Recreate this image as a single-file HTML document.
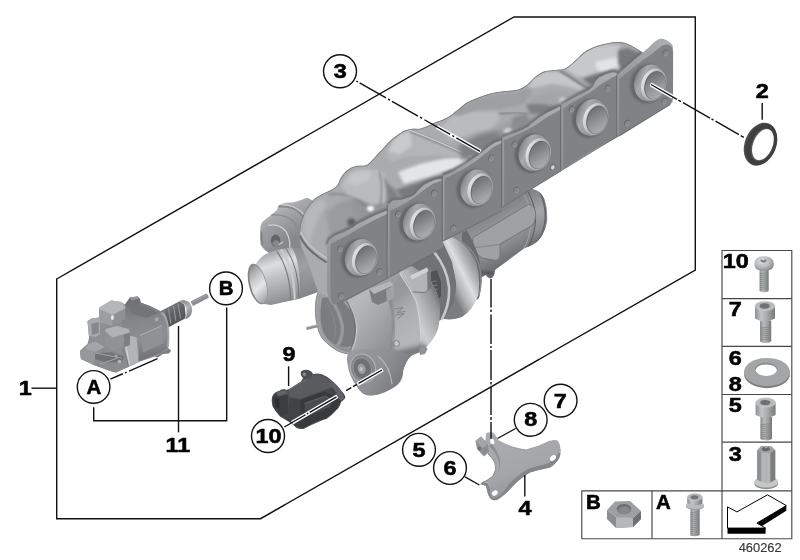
<!DOCTYPE html>
<html lang="en">
<head>
<meta charset="utf-8">
<title>Turbocharger with exhaust manifold - parts diagram 460262</title>
<style>
html,body{margin:0;padding:0;background:#fff;}
body{width:800px;height:560px;overflow:hidden;}
svg{display:block;}
text{font-family:"Liberation Sans",sans-serif;}
.b{font-weight:bold;fill:#000;}
</style>
</head>
<body>
<svg width="800" height="560" viewBox="0 0 800 560">
<defs>
<filter id="b1" x="-20%" y="-20%" width="140%" height="140%"><feGaussianBlur stdDeviation="1"/></filter>
<filter id="b2" x="-30%" y="-30%" width="160%" height="160%"><feGaussianBlur stdDeviation="2"/></filter>
<filter id="b3" x="-30%" y="-30%" width="160%" height="160%"><feGaussianBlur stdDeviation="3"/></filter>
<filter id="b5" x="-40%" y="-40%" width="180%" height="180%"><feGaussianBlur stdDeviation="5"/></filter>
<filter id="b05" x="-20%" y="-20%" width="140%" height="140%"><feGaussianBlur stdDeviation="0.5"/></filter>
<filter id="soft" x="-5%" y="-5%" width="110%" height="110%"><feGaussianBlur stdDeviation="0.45"/></filter>
<filter id="b15" x="-30%" y="-30%" width="160%" height="160%"><feGaussianBlur stdDeviation="1.5"/></filter>

<clipPath id="tubeclip"><path d="M299.5,233 C299.6,231.8 299.6,228.3 300,226 C300.4,223.7 301.2,221.5 302,219 C302.8,216.5 303.7,213.5 305,211 C306.3,208.5 308.3,206.1 310,204 C311.7,201.9 312.9,200.2 315,198.5 C317.1,196.8 319.8,195.4 322.5,194 C325.2,192.6 328.5,191.5 331,190 C333.5,188.5 335.8,187.1 337.5,185 C339.2,182.9 339.3,180.0 341,177.5 C342.7,175.0 345.0,171.9 347.5,170 C350.0,168.1 353.1,166.7 356,166 C358.9,165.3 362.7,166.2 365,165.6 C367.3,165.0 368.2,164.1 370,162.5 C371.8,160.9 373.9,158.2 376,156 C378.1,153.8 380.2,151.5 382.5,149 C384.8,146.5 387.5,143.3 390,141 C392.5,138.7 395.0,136.7 397.5,135 C400.0,133.3 402.5,131.6 405,130.6 C407.5,129.6 410.0,129.1 412.5,128.75 C415.0,128.4 417.5,129.2 420,128.75 C422.5,128.3 425.0,127.0 427.5,126 C430.0,125.0 432.6,123.5 435,122.5 C437.4,121.5 439.5,121.1 442,120 C444.5,118.9 447.0,118.0 450,116 C453.0,114.0 457.0,110.3 460,108 C463.0,105.7 464.7,103.8 468,102 C471.3,100.2 475.5,98.6 480,97 C484.5,95.4 489.0,93.7 495,92.5 C501.0,91.3 511.5,90.8 516,90 C520.5,89.2 520.0,89.0 522,88 C524.0,87.0 526.0,85.7 528,84 C530.0,82.3 532.0,79.8 534,78 C536.0,76.2 538.0,74.7 540,73.5 C542.0,72.3 543.3,71.6 546,71 C548.7,70.4 553.0,70.3 556,70 C559.0,69.7 561.8,69.7 564,69 C566.2,68.3 567.0,67.5 569,66 C571.0,64.5 573.2,62.5 576,60 C578.8,57.5 582.0,53.5 586,51 C590.0,48.5 594.7,46.5 600,45 C605.3,43.5 613.0,42.0 618,42 C623.0,42.0 626.0,43.3 630,45 C634.0,46.7 640.0,50.8 642,52 L650,60 L622,100 L566,135 L507,170 L448,205 L393,240 L340,262 L334,300 L318,292 L308,262 L301,246 Z"/></clipPath>
<linearGradient id="bevg" x1="0" y1="1" x2="1" y2="0"><stop offset="0" stop-color="#909295"/><stop offset="0.6" stop-color="#a0a2a5"/><stop offset="1" stop-color="#adafb2"/></linearGradient>
<linearGradient id="portg" x1="0" y1="0.45" x2="1" y2="0.55"><stop offset="0" stop-color="#7b7d80"/><stop offset="0.07" stop-color="#8f9194"/><stop offset="0.24" stop-color="#a8aaad"/><stop offset="0.5" stop-color="#97999c"/><stop offset="1" stop-color="#747679"/></linearGradient>
<linearGradient id="boreg" x1="0.15" y1="0.1" x2="0.8" y2="0.95"><stop offset="0" stop-color="#6c6e71"/><stop offset="0.3" stop-color="#808285"/><stop offset="0.65" stop-color="#999b9e"/><stop offset="1" stop-color="#acaeb1"/></linearGradient>
<linearGradient id="lipg" x1="0" y1="0.4" x2="1" y2="0.6"><stop offset="0" stop-color="#e4e5e6"/><stop offset="0.2" stop-color="#cfd1d2"/><stop offset="0.5" stop-color="#aeb0b3"/><stop offset="1" stop-color="#9a9c9f"/></linearGradient>
<linearGradient id="cylg" gradientUnits="userSpaceOnUse" x1="486" y1="212" x2="514" y2="262"><stop offset="0" stop-color="#7d7f82"/><stop offset="0.3" stop-color="#939598"/><stop offset="0.65" stop-color="#8a8c8f"/><stop offset="1" stop-color="#68696c"/></linearGradient>
<clipPath id="cylclip"><path d="M452,246 L466,210 L526,189 L532,189 Q540,190 544.5,199 Q548,210 547,222 Q544,238 533,244.5 L524,248.5 L495,270 Q494.5,278.5 490,278.5 Q487,278 486,275 Q480,279 476,277 L452,270 Z"/></clipPath>
<linearGradient id="capg" gradientUnits="userSpaceOnUse" x1="530" y1="192" x2="548" y2="240"><stop offset="0" stop-color="#808285"/><stop offset="0.4" stop-color="#a3a5a8"/><stop offset="0.75" stop-color="#8d8f92"/><stop offset="1" stop-color="#67696c"/></linearGradient>
<linearGradient id="torg" gradientUnits="userSpaceOnUse" x1="446" y1="280" x2="482" y2="262"><stop offset="0" stop-color="#7b7d80"/><stop offset="0.2" stop-color="#b0b2b4"/><stop offset="0.45" stop-color="#dcdedf"/><stop offset="0.7" stop-color="#a8aaad"/><stop offset="1" stop-color="#737578"/></linearGradient>
<linearGradient id="cmpg" gradientUnits="userSpaceOnUse" x1="272" y1="206" x2="292" y2="240"><stop offset="0" stop-color="#bcbec0"/><stop offset="0.3" stop-color="#a6a8ab"/><stop offset="0.7" stop-color="#939598"/><stop offset="1" stop-color="#85878a"/></linearGradient>
<linearGradient id="cmpf" gradientUnits="userSpaceOnUse" x1="262" y1="228" x2="290" y2="252"><stop offset="0" stop-color="#9fa1a4"/><stop offset="0.5" stop-color="#8f9194"/><stop offset="1" stop-color="#7d7f82"/></linearGradient>
<linearGradient id="inlb" gradientUnits="userSpaceOnUse" x1="296" y1="250" x2="310" y2="298"><stop offset="0" stop-color="#8d8f92"/><stop offset="0.35" stop-color="#9d9fa2"/><stop offset="1" stop-color="#808285"/></linearGradient>
<linearGradient id="inlg" gradientUnits="userSpaceOnUse" x1="264" y1="254" x2="280" y2="304"><stop offset="0" stop-color="#a6a8ab"/><stop offset="0.25" stop-color="#dcdedf"/><stop offset="0.5" stop-color="#bec0c2"/><stop offset="0.8" stop-color="#a0a2a5"/><stop offset="1" stop-color="#8a8c8f"/></linearGradient>
<linearGradient id="inlo" gradientUnits="userSpaceOnUse" x1="250" y1="268" x2="268" y2="302"><stop offset="0" stop-color="#8f9194"/><stop offset="0.3" stop-color="#c4c6c8"/><stop offset="0.55" stop-color="#e6e7e8"/><stop offset="0.85" stop-color="#b0b2b5"/><stop offset="1" stop-color="#8f9194"/></linearGradient>
<clipPath id="tbclip"><path d="M322,284 C321.2,286.0 318.1,291.7 317,296 C315.9,300.3 315.6,305.3 315.6,310 C315.6,314.7 316.1,319.7 317,324 C317.9,328.3 319.2,332.7 321,336 C322.8,339.3 325.2,341.5 328,344 C330.8,346.5 334.7,349.3 338,351 C341.3,352.7 346.3,353.5 348,354 L347,360  C347.5,362.3 348.2,369.3 350,374 C351.8,378.7 355.3,384.5 358,388 C360.7,391.5 362.3,394.0 366,395 C369.7,396.0 375.0,395.5 380,394 C385.0,392.5 392.3,388.7 396,386 C399.7,383.3 400.7,381.0 402,378 C403.3,375.0 402.7,371.5 404,368 C405.3,364.5 407.3,359.7 410,357 C412.7,354.3 417.3,353.7 420,352 C422.7,350.3 424.0,349.0 426,347 C428.0,345.0 430.1,342.8 432,340 C433.9,337.2 436.2,333.7 437.5,330 C438.8,326.3 439.2,322.8 439.5,318 C439.8,313.2 439.8,305.8 439,301 C438.2,296.2 436.9,292.9 435,289 C433.1,285.1 431.3,281.3 427.5,277.5 C423.7,273.7 414.6,267.9 412,266 L380,270 L330,270 Z"/></clipPath>
<linearGradient id="pipd" gradientUnits="userSpaceOnUse" x1="356" y1="305" x2="392" y2="335"><stop offset="0" stop-color="#b6b8ba"/><stop offset="0.4" stop-color="#a9abae"/><stop offset="1" stop-color="#939598"/></linearGradient>
<linearGradient id="hse" gradientUnits="userSpaceOnUse" x1="392" y1="300" x2="416" y2="330"><stop offset="0" stop-color="#96989b"/><stop offset="0.4" stop-color="#aaacaf"/><stop offset="1" stop-color="#b4b6b8"/></linearGradient>
<linearGradient id="volg" gradientUnits="userSpaceOnUse" x1="404" y1="322" x2="442" y2="304"><stop offset="0" stop-color="#a3a5a8"/><stop offset="0.3" stop-color="#cdcfd1"/><stop offset="0.55" stop-color="#b4b6b8"/><stop offset="0.85" stop-color="#939598"/><stop offset="1" stop-color="#737578"/></linearGradient>
<linearGradient id="bossg" gradientUnits="userSpaceOnUse" x1="350" y1="356" x2="406" y2="392"><stop offset="0" stop-color="#999b9e"/><stop offset="0.5" stop-color="#8d8f92"/><stop offset="1" stop-color="#707275"/></linearGradient>

</defs>
<rect width="800" height="560" fill="#fff"/>
<!-- turbo -->
<path d="M452,246 L466,210 L526,189 L532,189 Q540,190 544.5,199 Q548,210 547,222 Q544,238 533,244.5 L524,248.5 L495,270 Q494.5,278.5 490,278.5 Q487,278 486,275 Q480,279 476,277 L452,270 Z" fill="url(#cylg)"/>
<g clip-path="url(#cylclip)">
<path d="M526,188 L532,189 Q540,190 544.5,199 Q548,210 547,222 Q544,238 533,244.5 L526,249 Q534,236 535,220 Q535,202 526,188 Z" fill="url(#capg)"/>
<path d="M522,192 Q531,204 531.5,220 Q531,237 523,250" fill="none" stroke="#9c9ea1" stroke-width="1.2" stroke-linecap="round" filter="url(#b05)"/>
<path d="M526.5,189 Q535.5,203 535.5,220 Q535,236 527.5,248" fill="none" stroke="#5a5c5f" stroke-width="1" stroke-linecap="round" filter="url(#b05)"/>
<path d="M540,192 Q546,204 545.5,219 Q544,234 536,243" fill="none" stroke="#67696c" stroke-width="2" stroke-linecap="round" filter="url(#b05)"/>
<path d="M473,237.5 L529,204 Q534,205 535.5,212 Q536.5,220 532,225.5 L500,244 L500,256 Q499.5,259.5 496,260.5 L482,258 Q478,256 474.5,250 Q471.5,243 473,237.5 Z" fill="#9fa1a4" stroke="#707275" stroke-width="0.9"/>
<path d="M476,247.5 L500,244.5" fill="none" stroke="#7b7d80" stroke-width="0.8" stroke-linecap="round"/>
<path d="M462,264 Q476,274 492,273" fill="none" stroke="#55575a" stroke-width="3" stroke-linecap="round" filter="url(#b1)"/>
</g>
<path d="M448,228 L462,224 Q474,240 479,258 Q484,278 479,298 L468,306 Q476,284 470,266 Q462,248 446,241 Z" fill="#696b6e"/>
<path d="M459,240 Q474,249 479.5,266 Q483,282 479,296" fill="none" stroke="#8a8c8f" stroke-width="1.2" stroke-linecap="round" filter="url(#b05)"/>
<path d="M434,228 L462,226 L462,250 L444,256 L434,250 Z" fill="#8a8c8f"/>
<path d="M438,240 Q446,232 458,240.5 Q471,248.5 476.5,263 Q481,280 478,296 Q473,310 462,317 Q452,321 442,318.5 Q452,306 455.5,290 Q456,268 438,240 Z" fill="url(#torg)"/>
<path d="M441,247 Q456,268 455.5,290 Q452,306 442,318.5" fill="none" stroke="#77797c" stroke-width="1.4" stroke-linecap="round" filter="url(#b05)"/>
<path d="M400,268 L440,236 L452,262 L456,284 L454,302 L444,318 L430,326 L402,300 Z" fill="#707275"/>
<path d="M434,252 Q447,268 449,287 Q450,304 442,319" fill="none" stroke="#c6c8ca" stroke-width="2.6" stroke-linecap="round" filter="url(#b05)"/>
<path d="M430,255 Q443,270 445,288 Q446,304 438,320" fill="none" stroke="#6f7174" stroke-width="1.4" stroke-linecap="round" filter="url(#b05)"/>
<path d="M428,273 L437,270 L441,282 L441,296 L435,303 L430,296 Z" fill="#505255" filter="url(#b05)"/>
<path d="M431,282 l5,-1 M431,286 l6,-1 M431,290 l6,-1 M432,294 l5,-1" fill="none" stroke="#8a8c8f" stroke-width="0.8" stroke-linecap="round"/>
<path d="M260,238 C260.0,236.7 260.0,232.2 260.2,230 C260.4,227.8 260.4,226.2 261,224.75 C261.6,223.2 261.8,222.6 263.5,221 C265.2,219.4 268.8,216.9 271,215 C273.2,213.1 275.8,211.2 277,209.75 C278.2,208.2 277.2,207.1 278.5,206 C279.8,204.9 282.0,203.6 284.5,203 C287.0,202.4 290.8,202.8 293.5,202.25 C296.2,201.8 298.7,200.7 301,200 C303.3,199.3 305.5,197.8 307.5,198 C309.5,198.2 312.1,200.5 313,201 L324,230 L312,258 L272,254.5 Q265,251 261.5,245 Z" fill="url(#cmpg)"/>
<path d="M279.5,206.5 Q292,205.5 300,212.5 Q306,219 307,230" fill="none" stroke="#85878a" stroke-width="2.4" stroke-linecap="round" filter="url(#b05)"/>
<path d="M280.5,204.6 Q293,204.4 301.5,212 Q306.6,217.6 308,226" fill="none" stroke="#cdcfd1" stroke-width="1.2" stroke-linecap="round" filter="url(#b05)"/>
<path d="M272,215 Q286,214 294,222 Q299,230 298,244" fill="none" stroke="#8a8c8f" stroke-width="1.4" stroke-linecap="round" filter="url(#b05)"/>
<path d="M260.4,240 Q260.4,230 268,225.5 Q278,222.5 285.5,231 Q291.5,241 288.5,253 L272,254.5 Q263,250 260.4,244 Z" fill="url(#cmpf)"/>
<path d="M268.5,225.3 Q279,223 286,231.5 Q291.8,241.5 289,252.6" fill="none" stroke="#cfd1d2" stroke-width="1.3" stroke-linecap="round" filter="url(#b05)"/>
<path d="M262,232 Q261,238 262.4,244" fill="none" stroke="#77797c" stroke-width="1.2" stroke-linecap="round" filter="url(#b05)"/>
<ellipse cx="275.6" cy="240.6" rx="4.7" ry="6.1" fill="#626467"/>
<path d="M272,243.6 Q275.6,237 280,242.6 Q279.2,247.2 275.6,247 Z" fill="#85878a"/>
<path d="M279,244.6 l4,-2.6" fill="none" stroke="#d5d7d8" stroke-width="1" stroke-linecap="round"/>
<path d="M290,247.5 L318,250 L328,262 L324,290 L300,298.5 L286,301 L280,260 Z" fill="url(#inlb)"/>
<path d="M256,264 Q260,257 266,254 Q273,250.5 281,249 L292,247.5 Q301,262 300,298.5 L271,305 L264,304 Q250,296 248,278 Q249,270 256,264 Z" fill="url(#inlg)"/>
<path d="M277,251.6 Q290,270 290.6,299.6" fill="none" stroke="#77797c" stroke-width="1.1" stroke-linecap="round" filter="url(#b05)"/>
<path d="M281.4,250.2 Q294.4,269 294.6,298.4" fill="none" stroke="#c9cbcd" stroke-width="2.2" stroke-linecap="round" filter="url(#b05)"/>
<path d="M286.4,248.8 Q299,268 298.8,297.4" fill="none" stroke="#707275" stroke-width="1" stroke-linecap="round" filter="url(#b05)"/>
<ellipse cx="257.6" cy="284" rx="8.8" ry="20.8" transform="rotate(-14 257.6 284)" fill="#85878a"/>
<ellipse cx="258.3" cy="284.3" rx="7.7" ry="19.5" transform="rotate(-14 258.3 284.3)" fill="url(#inlo)"/>
<path d="M322,284 C321.2,286.0 318.1,291.7 317,296 C315.9,300.3 315.6,305.3 315.6,310 C315.6,314.7 316.1,319.7 317,324 C317.9,328.3 319.2,332.7 321,336 C322.8,339.3 325.2,341.5 328,344 C330.8,346.5 334.7,349.3 338,351 C341.3,352.7 346.3,353.5 348,354 L347,360  C347.5,362.3 348.2,369.3 350,374 C351.8,378.7 355.3,384.5 358,388 C360.7,391.5 362.3,394.0 366,395 C369.7,396.0 375.0,395.5 380,394 C385.0,392.5 392.3,388.7 396,386 C399.7,383.3 400.7,381.0 402,378 C403.3,375.0 402.7,371.5 404,368 C405.3,364.5 407.3,359.7 410,357 C412.7,354.3 417.3,353.7 420,352 C422.7,350.3 424.0,349.0 426,347 C428.0,345.0 430.1,342.8 432,340 C433.9,337.2 436.2,333.7 437.5,330 C438.8,326.3 439.2,322.8 439.5,318 C439.8,313.2 439.8,305.8 439,301 C438.2,296.2 436.9,292.9 435,289 C433.1,285.1 431.3,281.3 427.5,277.5 C423.7,273.7 414.6,267.9 412,266 L380,270 L330,270 Z" fill="#9b9da0"/>
<g clip-path="url(#tbclip)">
<path d="M322,298 C321.8,300.7 320.5,309.0 320.5,314 C320.5,319.0 320.9,324.0 322,328 C323.1,332.0 324.8,335.2 327,338 C329.2,340.8 332.2,343.0 335,344.5 C337.8,346.0 341.2,346.8 344,347 C346.8,347.2 350.0,346.7 352,345.5 C354.0,344.3 355.1,343.0 356,340 C356.9,337.0 357.8,331.7 357.5,327.5 C357.2,323.3 355.9,318.8 354,315 C352.1,311.2 348.7,308.2 346,305 C343.3,301.8 339.3,297.5 338,296 Z" fill="#7a7c7f"/>
<path d="M331,299 Q340,312 342.5,327 Q342.5,339 337.5,346" fill="none" stroke="#96989b" stroke-width="3.4" stroke-linecap="round" filter="url(#b05)"/>
<path d="M326.5,302 Q334,314 335.5,328 Q335.5,338 332,343.5" fill="none" stroke="#88898c" stroke-width="1" stroke-linecap="round" filter="url(#b05)"/>
<path d="M344,294 C345.0,295.3 348.2,298.7 350,302 C351.8,305.3 353.8,309.8 355,314 C356.2,318.2 357.0,322.8 357,327.5 C357.0,332.2 356.0,338.1 355,342 C354.0,345.9 348.2,349.0 351,351 C353.8,353.0 365.5,354.8 372,354 C378.5,353.2 386.3,350.0 390,346 C393.7,342.0 393.7,335.7 394,330 C394.3,324.3 393.3,317.3 392,312 C390.7,306.7 388.3,301.7 386,298 C383.7,294.3 382.3,291.5 378,290 C373.7,288.5 363.0,289.2 360,289 Z" fill="url(#pipd)"/>
<path d="M345,295 Q355,310 356.8,327 Q356.4,342 352,350.5" fill="none" stroke="#c9cbcd" stroke-width="1.2" stroke-linecap="round" filter="url(#b05)"/>
<path d="M343.6,296 Q353.4,310 355.2,327 Q354.8,341 350.6,349.5" fill="none" stroke="#6f7174" stroke-width="1" stroke-linecap="round" filter="url(#b05)"/>
<path d="M386,292 L402,274 L412,288 L418,304 L421,322 L421,342 L412,356 L396,352 L392,340 L394,326 L392,310 Z" fill="url(#hse)"/>
<path d="M389,296 Q394,312 394,328 Q394,342 390,350" fill="none" stroke="#77797c" stroke-width="1.4" stroke-linecap="round" filter="url(#b1)"/>
<path d="M399,272 C400.7,274.3 406.2,281.2 409,286 C411.8,290.8 414.2,295.3 416,301 C417.8,306.7 419.2,313.5 420,320 C420.8,326.5 421.3,334.0 421,340 C420.7,346.0 416.8,354.7 418,356 C419.2,357.3 425.3,351.0 428,348 C430.7,345.0 432.2,341.7 434,338 C435.8,334.3 437.6,330.0 438.5,326 C439.4,322.0 439.4,318.2 439.5,314 C439.6,309.8 439.8,305.2 439,301 C438.2,296.8 436.9,292.9 435,289 C433.1,285.1 431.0,281.3 427.5,277.5 C424.0,273.7 416.2,267.9 414,266 Z" fill="url(#volg)"/>
<path d="M400,274 Q410,288 416.5,302 Q420.5,320 421,340" fill="none" stroke="#d4d6d7" stroke-width="1.1" stroke-linecap="round" filter="url(#b05)"/>
<path d="M395,309 l8,-1.5 l-6,5 l8,-1 M396,315 l8,-1.5 l-6,5" fill="none" stroke="#808285" stroke-width="1" stroke-linecap="round"/>
<path d="M369,289 L390,281 L394,285 L394,298 L378,305 L372,302 Z" fill="#7b7d80"/>
<path d="M369,289 L390,281 L394,285 L374,294 Z" fill="#b4b6b8"/>
<path d="M386,290 L394,285 L394,298 L387,302 Z" fill="#a0a2a5"/>
<path d="M330,346 L360,354 L400,350 L426,344 L426,352 L400,362 L350,360 Z" fill="#7b7d80" filter="url(#b2)"/>
<path d="M348,352 C347.8,353.3 346.7,356.3 347,360 C347.3,363.7 348.2,369.3 350,374 C351.8,378.7 355.3,384.5 358,388 C360.7,391.5 362.3,394.0 366,395 C369.7,396.0 375.0,395.5 380,394 C385.0,392.5 392.3,388.7 396,386 C399.7,383.3 400.7,381.0 402,378 C403.3,375.0 402.7,371.5 404,368 C405.3,364.5 410.7,359.7 410,357 C409.3,354.3 405.0,353.2 400,352 C395.0,350.8 386.3,350.5 380,350 C373.7,349.5 365.0,349.2 362,349 Z" fill="url(#bossg)"/>
<ellipse cx="363" cy="368.5" rx="12.4" ry="14.6" transform="rotate(-18 363 368.5)" fill="#85878a" stroke="#b4b6b8" stroke-width="1"/>
<ellipse cx="362.3" cy="368.6" rx="9" ry="11" transform="rotate(-18 362.3 368.6)" fill="#6f7174" stroke="#999b9e" stroke-width="0.8"/>
<ellipse cx="361.6" cy="368.8" rx="4.6" ry="5.8" transform="rotate(-18 361.6 368.8)" fill="#999b9e" stroke="#65676a" stroke-width="0.8"/>
<ellipse cx="361.2" cy="369" rx="1.8" ry="2.3" fill="#bcbec0"/>
<path d="M378,356 Q390,366 392,384" fill="none" stroke="#b4b6b8" stroke-width="1.2" stroke-linecap="round" filter="url(#b05)"/>
<ellipse cx="396.6" cy="343.6" rx="2.8" ry="3" fill="#c6c8ca" stroke="#6f7174" stroke-width="0.8"/>
</g>
<path d="M409.5,276 L427,267.5 L431,271 L431,287 L425,292.5 L413,292 Z" fill="#b2b4b6"/>
<path d="M427,267.5 L431,271 L431,287 L427.5,290 Z" fill="#77797c"/>
<path d="M409.5,276 L427,267.5 L428.5,271 L412.5,279.5 Z" fill="#cfd1d2"/>
<path d="M413,292 L425,292.5 L431,287" fill="none" stroke="#6f7174" stroke-width="0.9" stroke-linecap="round"/>
<path d="M321,287 C320.3,288.8 317.8,294.0 317,298 C316.2,302.0 315.9,306.7 316,311 C316.1,315.3 316.6,319.9 317.5,324 C318.4,328.1 319.7,332.2 321.5,335.5 C323.3,338.8 325.8,341.1 328.5,343.5 C331.2,345.9 334.8,348.4 338,350 C341.2,351.6 346.3,352.5 348,353" fill="none" stroke="#a6a8ab" stroke-width="2.2" stroke-linecap="round"/>
<path d="M322,284 C321.2,286.0 318.1,291.7 317,296 C315.9,300.3 315.6,305.3 315.6,310 C315.6,314.7 316.1,319.7 317,324 C317.9,328.3 319.2,332.7 321,336 C322.8,339.3 325.2,341.5 328,344 C330.8,346.5 334.7,349.3 338,351 C341.3,352.7 346.3,353.5 348,354" fill="none" stroke="#808285" stroke-width="0.8" stroke-linecap="round"/>
<path d="M419,349 L425,345.5 L427.5,349 L425,354 L420,355 Z" fill="#8f9194"/>
<path d="M306,327.2 L318,324.2 L318.8,327 L306.8,330 Z" fill="#8d8f92"/>
<path d="M306.3,327.4 L318,324.5" fill="none" stroke="#c0c2c4" stroke-width="0.8" stroke-linecap="round"/>
<!-- manifold -->
<path d="M299.5,233 C299.6,231.8 299.6,228.3 300,226 C300.4,223.7 301.2,221.5 302,219 C302.8,216.5 303.7,213.5 305,211 C306.3,208.5 308.3,206.1 310,204 C311.7,201.9 312.9,200.2 315,198.5 C317.1,196.8 319.8,195.4 322.5,194 C325.2,192.6 328.5,191.5 331,190 C333.5,188.5 335.8,187.1 337.5,185 C339.2,182.9 339.3,180.0 341,177.5 C342.7,175.0 345.0,171.9 347.5,170 C350.0,168.1 353.1,166.7 356,166 C358.9,165.3 362.7,166.2 365,165.6 C367.3,165.0 368.2,164.1 370,162.5 C371.8,160.9 373.9,158.2 376,156 C378.1,153.8 380.2,151.5 382.5,149 C384.8,146.5 387.5,143.3 390,141 C392.5,138.7 395.0,136.7 397.5,135 C400.0,133.3 402.5,131.6 405,130.6 C407.5,129.6 410.0,129.1 412.5,128.75 C415.0,128.4 417.5,129.2 420,128.75 C422.5,128.3 425.0,127.0 427.5,126 C430.0,125.0 432.6,123.5 435,122.5 C437.4,121.5 439.5,121.1 442,120 C444.5,118.9 447.0,118.0 450,116 C453.0,114.0 457.0,110.3 460,108 C463.0,105.7 464.7,103.8 468,102 C471.3,100.2 475.5,98.6 480,97 C484.5,95.4 489.0,93.7 495,92.5 C501.0,91.3 511.5,90.8 516,90 C520.5,89.2 520.0,89.0 522,88 C524.0,87.0 526.0,85.7 528,84 C530.0,82.3 532.0,79.8 534,78 C536.0,76.2 538.0,74.7 540,73.5 C542.0,72.3 543.3,71.6 546,71 C548.7,70.4 553.0,70.3 556,70 C559.0,69.7 561.8,69.7 564,69 C566.2,68.3 567.0,67.5 569,66 C571.0,64.5 573.2,62.5 576,60 C578.8,57.5 582.0,53.5 586,51 C590.0,48.5 594.7,46.5 600,45 C605.3,43.5 613.0,42.0 618,42 C623.0,42.0 626.0,43.3 630,45 C634.0,46.7 640.0,50.8 642,52 L650,60 L622,100 L566,135 L507,170 L448,205 L393,240 L340,262 L334,300 L318,292 L308,262 L301,246 Z" fill="#a9abae"/>
<g clip-path="url(#tubeclip)">
<path d="M336,206 L372,190 L400,182 L440,166 L470,146 L505,126 L540,116 L560,104 L600,84 L620,72 L624,110 L566,140 L507,175 L448,210 L393,245 L340,264 Z" fill="#939598" filter="url(#b3)"/>
<path d="M303,232 L305,215 L313,204 L322,198.5 L327,205 L319,216 L313,232 L309,246 Z" fill="#b6b8ba" filter="url(#b15)"/>
<path d="M326,212 L340,204 L352,206 L358,216 L352,232 L340,240 L330,236 Z" fill="#999b9e" filter="url(#b2)"/>
<ellipse cx="351.5" cy="222.5" rx="4.2" ry="4.2" fill="#5d5f62" filter="url(#b15)"/>
<path d="M329,194.5 Q343,193 353,197 Q362,204 375,211" fill="none" stroke="#85878a" stroke-width="1.8" stroke-linecap="round" filter="url(#b1)"/>
<path d="M341,186 L346,176 L354,170.5 L366,168.5 L376,169.5 L386,174 L389,188 L385,203 L372,205 L360,199 L348,195 Z" fill="#b9bbbd" filter="url(#b15)"/>
<path d="M346,182 L352,174 L362,171 L372,172 L368,180 L356,186 Z" fill="#c4c6c8" filter="url(#b15)"/>
<path d="M379,172 Q384,184 380,206" fill="none" stroke="#8d8f92" stroke-width="1.8" stroke-linecap="round" filter="url(#b1)"/>
<path d="M384,176 L392,186 L398,198 L394,206 L388,200 Z" fill="#808285" filter="url(#b15)"/>
<path d="M386,156 L392.5,140 L400,133 L408.75,129.5 L430,138 L452,148 L470,156 L467.5,158 L440,156 L410,156 L392,162 Z" fill="#b3b5b7" filter="url(#b15)"/>
<path d="M388,152 L394,140 L402,134 L410,132 L412,146 L400,154 Z" fill="#c8cacc" filter="url(#b15)"/>
<path d="M384,164 L410,158 L440,157 L468,158.5 L470,166 L455,172 L440,178 L420,186 L400,192 L388,184 Z" fill="#a9abae" filter="url(#b15)"/>
<path d="M398,172 L420,164 L445,158.5 L466,157.5 L468,164 L450,170 L428,177 L404,184 Z" fill="#e4e5e6" filter="url(#b15)"/>
<path d="M396,190 L420,182 L440,176 L452,170 L456,174 L444,180 L424,188 L404,198 Z" fill="#77797c" filter="url(#b15)"/>
<path d="M411,131.5 Q440,143 474,158" fill="none" stroke="#838588" stroke-width="2.4" stroke-linecap="round" filter="url(#b1)"/>
<path d="M409,130 Q436,140 472,157" fill="none" stroke="#d0d2d4" stroke-width="1.2" stroke-linecap="round" filter="url(#b05)"/>
<path d="M440,128 L452,116 L470,112 L496,111 L500,118 L492,128 L470,134 L450,140 Z" fill="#b9bbbd" filter="url(#b15)"/>
<path d="M452,113 L462,106 L476,99.5 L492,95 L516,92.5 L528,87 L532,92 L524,104 L500,109 L476,110 L458,116 Z" fill="#9d9fa2" filter="url(#b15)"/>
<path d="M500,114 Q514,111 527,114" fill="none" stroke="#85878a" stroke-width="2" stroke-linecap="round" filter="url(#b1)"/>
<ellipse cx="508" cy="131.5" rx="4.2" ry="3.4" fill="#d6d8d9" filter="url(#b15)"/>
<path d="M458,146 L478,135 L496,131 L502,139 L482,151 L462,161 Z" fill="#7f8184" filter="url(#b2)"/>
<path d="M512,118 L526,113 L530,122 L520,128 L512,128 Z" fill="#8a8c8f" filter="url(#b15)"/>
<path d="M527.5,87.5 L533.75,77.5 L545,72 L560,72 L573.75,80 L585,87.5 L580,90 L567.5,86.25 L551.25,83.75 L536.25,87.5 Z" fill="#c4c6c8" filter="url(#b15)"/>
<path d="M530,98 L548,92 L566,92 L578,96 L570,104 L552,108 L534,108 Z" fill="#a3a5a8" filter="url(#b15)"/>
<path d="M526,104 L540,104 L556,106 L560,110 L548,114 L530,114 Z" fill="#7d7f82" filter="url(#b15)"/>
<ellipse cx="563" cy="101" rx="3.6" ry="3.6" fill="#d8dadb" filter="url(#b15)"/>
<path d="M565,68.75 L572.5,58.75 L582.5,51.25 L595,46.5 L610,44.5 L620,45 L620,58.75 L607.5,65 L595,72.5 L585,77.5 L576.25,76.25 Z" fill="#c6c8ca" filter="url(#b15)"/>
<path d="M595,62.5 L607.5,58.75 L620,57.5 L622,66 L607.5,71.25 L597.5,71.25 Z" fill="#e2e3e4" filter="url(#b15)"/>
<path d="M582.5,78.5 L595,74.75 L607.5,73.5 L618.75,72 L617.5,77 L607.5,80 L597.5,82.5 L590,85 Z" fill="#737578" filter="url(#b15)"/>
<path d="M618,50 L628,48 L638,52.5 L643,56 L632,64 L622,70 L618,64 Z" fill="#77797c" filter="url(#b15)"/>
<path d="M560,71 Q568,75 576,81 Q584,86.5 592,90" fill="none" stroke="#6c6e71" stroke-width="1.7" stroke-linecap="round" filter="url(#b1)"/>
<ellipse cx="370.5" cy="208.6" rx="3.6" ry="2.8" fill="#f4f5f6" filter="url(#b1)"/>
<path d="M300,236 Q306,250 326,262" fill="none" stroke="#6c6e71" stroke-width="2" stroke-linecap="round" filter="url(#b05)"/>
<path d="M300.5,232 Q307,247 328,259" fill="none" stroke="#c4c6c8" stroke-width="1.4" stroke-linecap="round" filter="url(#b05)"/>
<path d="M299.5,233 C299.6,231.8 299.6,228.3 300,226 C300.4,223.7 301.2,221.5 302,219 C302.8,216.5 303.7,213.5 305,211 C306.3,208.5 308.3,206.1 310,204 C311.7,201.9 312.9,200.2 315,198.5 C317.1,196.8 319.8,195.4 322.5,194 C325.2,192.6 328.5,191.5 331,190 C333.5,188.5 335.8,187.1 337.5,185 C339.2,182.9 339.3,180.0 341,177.5 C342.7,175.0 345.0,171.9 347.5,170 C350.0,168.1 353.1,166.7 356,166 C358.9,165.3 362.7,166.2 365,165.6 C367.3,165.0 368.2,164.1 370,162.5 C371.8,160.9 373.9,158.2 376,156 C378.1,153.8 380.2,151.5 382.5,149 C384.8,146.5 387.5,143.3 390,141 C392.5,138.7 395.0,136.7 397.5,135 C400.0,133.3 402.5,131.6 405,130.6 C407.5,129.6 410.0,129.1 412.5,128.75 C415.0,128.4 417.5,129.2 420,128.75 C422.5,128.3 425.0,127.0 427.5,126 C430.0,125.0 432.6,123.5 435,122.5 C437.4,121.5 439.5,121.1 442,120 C444.5,118.9 447.0,118.0 450,116 C453.0,114.0 457.0,110.3 460,108 C463.0,105.7 464.7,103.8 468,102 C471.3,100.2 475.5,98.6 480,97 C484.5,95.4 489.0,93.7 495,92.5 C501.0,91.3 511.5,90.8 516,90 C520.5,89.2 520.0,89.0 522,88 C524.0,87.0 526.0,85.7 528,84 C530.0,82.3 532.0,79.8 534,78 C536.0,76.2 538.0,74.7 540,73.5 C542.0,72.3 543.3,71.6 546,71 C548.7,70.4 553.0,70.3 556,70 C559.0,69.7 561.8,69.7 564,69 C566.2,68.3 567.0,67.5 569,66 C571.0,64.5 573.2,62.5 576,60 C578.8,57.5 582.0,53.5 586,51 C590.0,48.5 594.7,46.5 600,45 C605.3,43.5 613.0,42.0 618,42 C623.0,42.0 626.0,43.3 630,45 C634.0,46.7 640.0,50.8 642,52" fill="none" stroke="#797b7e" stroke-width="1.6" filter="url(#b05)"/>
</g>
<path d="M327,244.8 L329,238.8 L335,234.4 L344,230.9 L352.6,226.55 L357,223.05 L365.75,218.70000000000002 L374.5,214.3 L383.25,210.8 L387.5,209.05" fill="none" stroke="#6c6e71" stroke-width="3" stroke-linejoin="round" filter="url(#b1)" clip-path="url(#tubeclip)"/>
<path d="M387.5,203.8 L393,199.4 L402,198.55 L410.6,195.9 L415,193.3 L418.5,188.9 L423.75,183.70000000000002 L429,181.05 L436,178.4 L442.5,177.55" fill="none" stroke="#6c6e71" stroke-width="3" stroke-linejoin="round" filter="url(#b1)" clip-path="url(#tubeclip)"/>
<path d="M442.5,174.8 L453,170.55 L464.5,163.55 L473.25,157.4 L478.5,153.8 L483.75,149.55 L489,145.20000000000002 L494.25,141.70000000000002 L502,139.05" fill="none" stroke="#6c6e71" stroke-width="3" stroke-linejoin="round" filter="url(#b1)" clip-path="url(#tubeclip)"/>
<path d="M502,136.3 L508.75,133.8 L515.75,131.20000000000002 L522.75,128.55 L528.9,125.05 L531.5,122.39999999999999 L539.4,116.3 L548,111.05 L556.9,106.7 L561.3,104.89999999999999" fill="none" stroke="#6c6e71" stroke-width="3" stroke-linejoin="round" filter="url(#b1)" clip-path="url(#tubeclip)"/>
<path d="M561,103.8 L579,93.8 L588.5,89.05 L593,85.3 L595.25,80.05 L599,76.3 L605,73.3 L612.5,71.05 L616.7,71.8" fill="none" stroke="#6c6e71" stroke-width="3" stroke-linejoin="round" filter="url(#b1)" clip-path="url(#tubeclip)"/>
<path d="M617,73.8 L625,66.8 L634,58.8 L643.5,50.699999999999996 L648.7,46.3 L654,41.05 L658.4,38.0 L661.9,37.4 L666.2,38.8 L670.6,41.5 L672.8,44.55" fill="none" stroke="#6c6e71" stroke-width="3" stroke-linejoin="round" filter="url(#b1)" clip-path="url(#tubeclip)"/>
<path d="M327,246 L329,240 L335,235.6 L344,232.1 L352.6,227.75 L357,224.25 L365.75,219.9 L374.5,215.5 L383.25,212 L387.5,210.25 L387.5,278.5 L366,290 L347.5,300 L337,304.5 L331.5,305 L328.5,300 L327,290 Z" fill="url(#bevg)"/>
<path d="M330.5,244 L348.25,234.75 L361.4,226.9 L374.5,219.9 L387.5,213.75 L387.5,278.5 L366,290 L347.5,300 L337,304.5 L333,304 L330.5,298 Z" fill="#808285"/>
<path d="M387.5,205 L393,200.6 L402,199.75 L410.6,197.1 L415,194.5 L418.5,190.1 L423.75,184.9 L429,182.25 L436,179.6 L442.5,178.75 L442.5,248 L425,256.5 L387.5,278.5 Z" fill="url(#bevg)"/>
<path d="M389.7,211 L402,205 L415,197.1 L423.75,190.1 L432.5,184 L441.25,180.5 L442.5,181 L442.5,248 L425,256.5 L389.7,277.3 Z" fill="#808285"/>
<path d="M387.2,205 V278.5" stroke="#626467" stroke-width="0.9"/>
<path d="M442.5,176 L453,171.75 L464.5,164.75 L473.25,158.6 L478.5,155 L483.75,150.75 L489,146.4 L494.25,142.9 L502,140.25 L502,211 L487.5,219 L462.5,232.5 L442.5,241.5 Z" fill="url(#bevg)"/>
<path d="M444.7,178.75 L466.25,167.4 L476.75,160.4 L485.5,153.4 L494.25,146.4 L502,142.9 L502,211 L487.5,219 L462.5,232.5 L444.7,240.5 Z" fill="#808285"/>
<path d="M442.2,176 V241.5" stroke="#626467" stroke-width="0.9"/>
<path d="M502,137.5 L508.75,135 L515.75,132.4 L522.75,129.75 L528.9,126.25 L531.5,123.6 L539.4,117.5 L548,112.25 L556.9,107.9 L561.3,106.1 L561.3,171 L536,186 L524,194 L502,207.5 Z" fill="url(#bevg)"/>
<path d="M504.2,140.5 L526.25,130.6 L535,125.4 L548,116.6 L561.3,109.2 L561.3,171 L536,186 L524,194 L504.2,206.2 Z" fill="#808285"/>
<path d="M501.7,137.5 V207.5" stroke="#626467" stroke-width="0.9"/>
<path d="M561,105 L579,95 L588.5,90.25 L593,86.5 L595.25,81.25 L599,77.5 L605,74.5 L612.5,72.25 L616.7,73 L616.7,137.5 L600,146.5 L580,158.5 L561,170.5 Z" fill="url(#bevg)"/>
<path d="M563.3,108.5 L571.25,103 L590,92.5 L602,83.5 L612.5,77.5 L616.7,75.5 L616.7,137.5 L600,146.5 L580,158.5 L563.3,169.3 Z" fill="#808285"/>
<path d="M560.7,105 V170.5" stroke="#626467" stroke-width="0.9"/>
<path d="M617,75 L625,68 L634,60 L643.5,51.9 L648.7,47.5 L654,42.25 L658.4,39.2 L661.9,38.6 L666.2,40 L670.6,42.7 L672.8,45.75 L673.2,51.9 L673,98 L672.5,102 L670,105 L620,136 L617,137 Z" fill="url(#bevg)"/>
<path d="M619.2,79 L632,68.5 L641,61.5 L649.6,55.4 L657.5,49.25 L662,45.75 L666,44.4 L670,45.3 L672,47.5 L673,52 L673,98 L670,105 L620,136 L619.2,136.5 Z" fill="#808285"/>
<path d="M616.7,75 V137" stroke="#626467" stroke-width="0.9"/>
<path d="M337,304 L388,278 L443,247.5 M443,241 L502.5,210.5 M502.5,207 L561.5,170.5 L616.5,137 L670,104.5" fill="none" stroke="#6c6e71" stroke-width="0.9"/>
<ellipse cx="359" cy="258.7" rx="17.4" ry="19.8" transform="rotate(17 361 257.5)" fill="#646669" filter="url(#b1)"/>
<ellipse cx="361" cy="257.5" rx="15.8" ry="18.6" transform="rotate(17 361 257.5)" fill="url(#portg)"/>
<ellipse cx="364.8" cy="259.1" rx="12.4" ry="16.4" transform="rotate(17 364.8 259.1)" fill="url(#lipg)"/>
<ellipse cx="365.9" cy="259.7" rx="10.3" ry="14.4" transform="rotate(17 365.9 259.7)" fill="#67696c"/>
<ellipse cx="366.2" cy="260.0" rx="9.8" ry="13.8" transform="rotate(17 366.2 260.0)" fill="url(#boreg)"/>
<ellipse cx="417" cy="223.2" rx="17.4" ry="19.8" transform="rotate(17 419 222)" fill="#646669" filter="url(#b1)"/>
<ellipse cx="419" cy="222" rx="15.8" ry="18.6" transform="rotate(17 419 222)" fill="url(#portg)"/>
<ellipse cx="422.8" cy="223.6" rx="12.4" ry="16.4" transform="rotate(17 422.8 223.6)" fill="url(#lipg)"/>
<ellipse cx="423.9" cy="224.2" rx="10.3" ry="14.4" transform="rotate(17 423.9 224.2)" fill="#67696c"/>
<ellipse cx="424.2" cy="224.5" rx="9.8" ry="13.8" transform="rotate(17 424.2 224.5)" fill="url(#boreg)"/>
<ellipse cx="474.5" cy="189.0" rx="17.4" ry="19.8" transform="rotate(17 476.5 187.8)" fill="#646669" filter="url(#b1)"/>
<ellipse cx="476.5" cy="187.8" rx="15.8" ry="18.6" transform="rotate(17 476.5 187.8)" fill="url(#portg)"/>
<ellipse cx="480.3" cy="189.4" rx="12.4" ry="16.4" transform="rotate(17 480.3 189.4)" fill="url(#lipg)"/>
<ellipse cx="481.4" cy="190.0" rx="10.3" ry="14.4" transform="rotate(17 481.4 190.0)" fill="#67696c"/>
<ellipse cx="481.7" cy="190.3" rx="9.8" ry="13.8" transform="rotate(17 481.7 190.3)" fill="url(#boreg)"/>
<ellipse cx="532.5" cy="153.89999999999998" rx="17.4" ry="19.8" transform="rotate(17 534.5 152.7)" fill="#646669" filter="url(#b1)"/>
<ellipse cx="534.5" cy="152.7" rx="15.8" ry="18.6" transform="rotate(17 534.5 152.7)" fill="url(#portg)"/>
<ellipse cx="538.3" cy="154.29999999999998" rx="12.4" ry="16.4" transform="rotate(17 538.3 154.29999999999998)" fill="url(#lipg)"/>
<ellipse cx="539.4" cy="154.89999999999998" rx="10.3" ry="14.4" transform="rotate(17 539.4 154.89999999999998)" fill="#67696c"/>
<ellipse cx="539.7" cy="155.2" rx="9.8" ry="13.8" transform="rotate(17 539.7 155.2)" fill="url(#boreg)"/>
<ellipse cx="590" cy="118.7" rx="17.4" ry="19.8" transform="rotate(17 592 117.5)" fill="#646669" filter="url(#b1)"/>
<ellipse cx="592" cy="117.5" rx="15.8" ry="18.6" transform="rotate(17 592 117.5)" fill="url(#portg)"/>
<ellipse cx="595.8" cy="119.1" rx="12.4" ry="16.4" transform="rotate(17 595.8 119.1)" fill="url(#lipg)"/>
<ellipse cx="596.9" cy="119.7" rx="10.3" ry="14.4" transform="rotate(17 596.9 119.7)" fill="#67696c"/>
<ellipse cx="597.2" cy="120.0" rx="9.8" ry="13.8" transform="rotate(17 597.2 120.0)" fill="url(#boreg)"/>
<ellipse cx="648" cy="84.2" rx="17.4" ry="19.8" transform="rotate(17 650 83)" fill="#646669" filter="url(#b1)"/>
<ellipse cx="650" cy="83" rx="15.8" ry="18.6" transform="rotate(17 650 83)" fill="url(#portg)"/>
<ellipse cx="653.8" cy="84.6" rx="12.4" ry="16.4" transform="rotate(17 653.8 84.6)" fill="url(#lipg)"/>
<ellipse cx="654.9" cy="85.2" rx="10.3" ry="14.4" transform="rotate(17 654.9 85.2)" fill="#67696c"/>
<ellipse cx="655.2" cy="85.5" rx="9.8" ry="13.8" transform="rotate(17 655.2 85.5)" fill="url(#boreg)"/>
<ellipse cx="340" cy="248.7" rx="2.8" ry="3.5" transform="rotate(20 340 248.7)" fill="#696b6e"/><ellipse cx="340.7" cy="249.29999999999998" rx="2.2" ry="2.9" transform="rotate(20 340 248.7)" fill="#999b9e"/><ellipse cx="340.3" cy="248.89999999999998" rx="1.7" ry="2.3" transform="rotate(20 340 248.7)" fill="#85878a"/>
<ellipse cx="379.2" cy="271.5" rx="2.8" ry="3.5" transform="rotate(20 379.2 271.5)" fill="#696b6e"/><ellipse cx="379.9" cy="272.1" rx="2.2" ry="2.9" transform="rotate(20 379.2 271.5)" fill="#999b9e"/><ellipse cx="379.5" cy="271.7" rx="1.7" ry="2.3" transform="rotate(20 379.2 271.5)" fill="#85878a"/>
<ellipse cx="341" cy="295.6" rx="2.8" ry="3.5" transform="rotate(20 341 295.6)" fill="#696b6e"/><ellipse cx="341.7" cy="296.20000000000005" rx="2.2" ry="2.9" transform="rotate(20 341 295.6)" fill="#999b9e"/><ellipse cx="341.3" cy="295.8" rx="1.7" ry="2.3" transform="rotate(20 341 295.6)" fill="#85878a"/>
<ellipse cx="398" cy="213.7" rx="2.8" ry="3.5" transform="rotate(20 398 213.7)" fill="#696b6e"/><ellipse cx="398.7" cy="214.29999999999998" rx="2.2" ry="2.9" transform="rotate(20 398 213.7)" fill="#999b9e"/><ellipse cx="398.3" cy="213.89999999999998" rx="1.7" ry="2.3" transform="rotate(20 398 213.7)" fill="#85878a"/>
<ellipse cx="433.7" cy="193" rx="2.8" ry="3.5" transform="rotate(20 433.7 193)" fill="#696b6e"/><ellipse cx="434.4" cy="193.6" rx="2.2" ry="2.9" transform="rotate(20 433.7 193)" fill="#999b9e"/><ellipse cx="434.0" cy="193.2" rx="1.7" ry="2.3" transform="rotate(20 433.7 193)" fill="#85878a"/>
<ellipse cx="453" cy="228" rx="2.8" ry="3.5" transform="rotate(20 453 228)" fill="#696b6e"/><ellipse cx="453.7" cy="228.6" rx="2.2" ry="2.9" transform="rotate(20 453 228)" fill="#999b9e"/><ellipse cx="453.3" cy="228.2" rx="1.7" ry="2.3" transform="rotate(20 453 228)" fill="#85878a"/>
<ellipse cx="491" cy="157.5" rx="2.8" ry="3.5" transform="rotate(20 491 157.5)" fill="#696b6e"/><ellipse cx="491.7" cy="158.1" rx="2.2" ry="2.9" transform="rotate(20 491 157.5)" fill="#999b9e"/><ellipse cx="491.3" cy="157.7" rx="1.7" ry="2.3" transform="rotate(20 491 157.5)" fill="#85878a"/>
<ellipse cx="514.4" cy="144" rx="2.8" ry="3.5" transform="rotate(20 514.4 144)" fill="#696b6e"/><ellipse cx="515.1" cy="144.6" rx="2.2" ry="2.9" transform="rotate(20 514.4 144)" fill="#999b9e"/><ellipse cx="514.6999999999999" cy="144.2" rx="1.7" ry="2.3" transform="rotate(20 514.4 144)" fill="#85878a"/>
<ellipse cx="516" cy="190" rx="2.8" ry="3.5" transform="rotate(20 516 190)" fill="#696b6e"/><ellipse cx="516.7" cy="190.6" rx="2.2" ry="2.9" transform="rotate(20 516 190)" fill="#999b9e"/><ellipse cx="516.3" cy="190.2" rx="1.7" ry="2.3" transform="rotate(20 516 190)" fill="#85878a"/>
<ellipse cx="571.6" cy="109" rx="2.8" ry="3.5" transform="rotate(20 571.6 109)" fill="#696b6e"/><ellipse cx="572.3000000000001" cy="109.6" rx="2.2" ry="2.9" transform="rotate(20 571.6 109)" fill="#999b9e"/><ellipse cx="571.9" cy="109.2" rx="1.7" ry="2.3" transform="rotate(20 571.6 109)" fill="#85878a"/>
<ellipse cx="607.6" cy="88" rx="2.8" ry="3.5" transform="rotate(20 607.6 88)" fill="#696b6e"/><ellipse cx="608.3000000000001" cy="88.6" rx="2.2" ry="2.9" transform="rotate(20 607.6 88)" fill="#999b9e"/><ellipse cx="607.9" cy="88.2" rx="1.7" ry="2.3" transform="rotate(20 607.6 88)" fill="#85878a"/>
<ellipse cx="627" cy="123" rx="2.8" ry="3.5" transform="rotate(20 627 123)" fill="#696b6e"/><ellipse cx="627.7" cy="123.6" rx="2.2" ry="2.9" transform="rotate(20 627 123)" fill="#999b9e"/><ellipse cx="627.3" cy="123.2" rx="1.7" ry="2.3" transform="rotate(20 627 123)" fill="#85878a"/>
<ellipse cx="664" cy="101" rx="2.8" ry="3.5" transform="rotate(20 664 101)" fill="#696b6e"/><ellipse cx="664.7" cy="101.6" rx="2.2" ry="2.9" transform="rotate(20 664 101)" fill="#999b9e"/><ellipse cx="664.3" cy="101.2" rx="1.7" ry="2.3" transform="rotate(20 664 101)" fill="#85878a"/>
<ellipse cx="665.4" cy="53" rx="2.8" ry="3.5" transform="rotate(20 665.4 53)" fill="#696b6e"/><ellipse cx="666.1" cy="53.6" rx="2.2" ry="2.9" transform="rotate(20 665.4 53)" fill="#999b9e"/><ellipse cx="665.6999999999999" cy="53.2" rx="1.7" ry="2.3" transform="rotate(20 665.4 53)" fill="#85878a"/>
<ellipse cx="552.5" cy="167" rx="2.8" ry="3.5" transform="rotate(20 552.5 167)" fill="#727477"/><ellipse cx="552.9" cy="167.3" rx="1.7" ry="2.2" transform="rotate(20 552.5 167)" fill="#d4d6d7"/>
<!-- actuator -->
<!-- actuator (11) -->
<defs>
<linearGradient id="acb" gradientUnits="userSpaceOnUse" x1="140" y1="304" x2="150" y2="362"><stop offset="0" stop-color="#77797c"/><stop offset="0.3" stop-color="#85878a"/><stop offset="0.6" stop-color="#8c8e91"/><stop offset="1" stop-color="#6c6e71"/></linearGradient>
<linearGradient id="acr" gradientUnits="userSpaceOnUse" x1="168" y1="304" x2="180" y2="326"><stop offset="0" stop-color="#7b7d80"/><stop offset="0.4" stop-color="#606265"/><stop offset="1" stop-color="#4d4f52"/></linearGradient>
<linearGradient id="acc" gradientUnits="userSpaceOnUse" x1="182" y1="302" x2="190" y2="318"><stop offset="0" stop-color="#8d8f92"/><stop offset="0.4" stop-color="#b0b2b4"/><stop offset="1" stop-color="#7b7d80"/></linearGradient>
</defs>
<!-- rod -->
<path d="M190.5,301.5 L206.2,293.6 Q208.8,295 208.8,297.8 L193,306 Z" fill="#8d8f92"/>
<path d="M191.6,302.4 L206.6,294.8" stroke="#a6a8ab" stroke-width="1" fill="none"/>
<!-- rod housing with slats -->
<path d="M159,312 L180,301 L184,300 L186,318 L168,327.5 L160,326 Z" fill="url(#acr)"/>
<path d="M164,311 l2,14 M168.5,308.5 l2.4,15 M173.5,306 l2.4,15 M178,303.5 l2.6,15" stroke="#909295" stroke-width="1.2" fill="none"/>
<path d="M180,301 Q186,298.6 190,303 Q193.4,308.5 191.4,314 Q189,318.6 185,319.2 Q187.6,313 186.4,307.5 Q184.6,302.6 180,301 Z" fill="url(#acc)"/>
<path d="M180,301 Q185,303 186.6,308.5 Q187.6,314 185,319.2" stroke="#c6c8ca" stroke-width="0.9" fill="none"/>
<!-- silhouette base -->
<path d="M99.4,307.5 L111.25,300.6 L121.25,301.9 L125,304.5 L130,297.5 L137.5,296.5 L140,299 L140.5,302.5 L150,306 L160,311 L166,315 L167.5,331 L168,341 L167.5,347 L171,350.5 L169,353 L162.5,353 L155,356.5 L140,361.5 L127.5,367.5 L116,372.5 L110,371 L94,365 L81,359 L80,351 L87.5,344 L89,338 L87.5,321 L92,318.5 L99,317.5 Z" fill="#8c8e91"/>
<!-- main cylindrical body -->
<path d="M122,314 L128,304 L140.5,302.5 L150,306 L160,311 L166,315 L168.5,331 L168.5,347 L160,353 L140,361 L128,366 L122,350 Z" fill="url(#acb)"/>
<path d="M140,335.5 L162,325.5 L164,343 L143,352.5 Z" fill="#8f9194"/>
<path d="M140,335.5 L162,325.5" stroke="#adafb2" stroke-width="1" fill="none"/>
<path d="M161.5,312.5 Q167.6,317 168.4,331 Q168.8,342 167.6,347" stroke="#a6a8ab" stroke-width="1.8" fill="none"/>
<path d="M154.5,318.6 l3.6,-1.6 l0.8,3.2 l-3.6,1.6 Z" fill="#a6a8ab"/>
<path d="M130,308 L142,305 L152,309 L158,313 L146,318 L132,314 Z" fill="#737578"/>
<!-- top small bits (dark) -->
<path d="M125,304.5 L130,297.5 L137.5,296.5 L140,299 L140.5,303 L134,307.5 L127,307.5 Z" fill="#707275"/>
<path d="M130,297.6 L137.5,296.6 L139,298.6 L131.5,300.4 Z" fill="#96989b"/>
<!-- strap band -->
<path d="M122.5,338 Q130,334 137.5,338 L139,361.5 L129,366 Q125,352 122.5,338 Z" fill="#b2b4b6"/>
<path d="M123.5,338.4 Q127.5,350 129.6,365.6" stroke="#d4d6d7" stroke-width="1" fill="none"/>
<path d="M137,338.4 Q138.6,350 138.6,361" stroke="#8a8c8f" stroke-width="0.9" fill="none"/>
<!-- connector box -->
<path d="M99,309 L112.5,315 L112.5,325.5 L99,322.5 Z" fill="#9c9ea1"/>
<path d="M112.5,315 L125,308.5 L125.5,319 L113.5,325.5 Z" fill="#8f9194"/>
<path d="M99.4,307.5 L111.25,300.6 L121.25,301.9 L125,306.25 L125,308.5 L112.5,315 L99,309 Z" fill="#b4b6b8"/>
<ellipse cx="112.4" cy="317.5" rx="1.5" ry="2.6" fill="#e4e5e6" filter="url(#b05)"/>
<!-- left tab -->
<path d="M87.5,321 L92,318.3 L99.5,317.5 L100,322.5 L100,334 L96,337 L89,336 Z" fill="#a8aaad"/>
<path d="M91.5,323.5 L98.75,322 L98.75,333 L92,335 Z" fill="#86888b"/>
<!-- front box -->
<path d="M105,331 L112.5,337.5 L123.75,334 L123.75,346.5 L112.5,350.5 L105,346 Z" fill="#909295"/>
<path d="M123.75,334 L130,332.5 L130,345 L123.75,347.5 Z" fill="#7d7f82"/>
<path d="M106,329 L117,326 L128.75,329 L130,332.5 L112.5,337.5 L105,331 Z" fill="#b0b2b4"/>
<!-- base bracket -->
<path d="M80,351 L87.5,344 L96,341.5 L105,346 L112.5,350.5 L125,355 L128,366.5 L116,372.5 L110,371 L94,365 L81,359 Z" fill="#8a8c8f"/>
<path d="M87.5,344 L96,341.5 L105,347 L95,352 L85,349 Z" fill="#a3a5a8"/>
<path d="M95,353 L112,352.5 L124,356.5 L122,362 L106,362.5 L95,359 Z" fill="#6f7174"/>
<path d="M95,353 L122,358 M100,364 L118,358" stroke="#a6a8ab" stroke-width="0.9" fill="none"/>
<path d="M80,351 L85,349 L95,352.5 L95,359 L94,365 L81,359 Z" fill="#96989b"/>
<circle cx="119.5" cy="361.5" r="1.8" fill="#b4b6b8"/>
<circle cx="116" cy="356" r="1.4" fill="#a6a8ab"/>
<!-- right-bottom foot -->
<path d="M155,356.5 L162.5,352.6 L169,350 L171,350.6 L169,353.4 L163,354 L157,358 Z" fill="#7b7d80"/>

<!-- valve -->
<!-- valve (9) -->
<defs>
<linearGradient id="vlg" gradientUnits="userSpaceOnUse" x1="295" y1="378" x2="322" y2="426"><stop offset="0" stop-color="#56585c"/><stop offset="0.45" stop-color="#46484c"/><stop offset="1" stop-color="#303236"/></linearGradient>
</defs>
<path d="M301,371.5 Q304,369 308,370 Q312,371 313,374 Q318,373 322.5,374.5 Q327,376.5 330,379 Q334,382.5 337.5,386 L344,394 Q346,396.5 344.5,399 L341,402 L340,405 Q338,408.5 335,411 Q331,415.5 326,419 L320,420.5 L310,425.5 L303,429 Q299,429.5 296,427.5 L292.5,424 L280,416.5 Q275,411 272.5,406 Q271,401 272,397 Q273,393.5 276,392 L280,390.5 L281,389.6 L285,389 L286,390 L289,389 L301,381.5 L303,378 Q300,375 301,371.5 Z" fill="url(#vlg)"/>
<!-- top face of body -->
<path d="M288,390.5 L302,382.5 L313,375.5 L322,375.5 L330,380 L336,386 L322,391 L300,399 L290,397 Z" fill="#595b5f"/>
<path d="M289,390 L302,382.3 L313,375.2" fill="none" stroke="#74767a" stroke-width="0.8"/>
<!-- connector block on the left -->
<path d="M272.5,397.5 L276,392.5 L281,390.5 L286,391 L288,397 L288,414.5 L281,416.5 Q275,410.5 272.8,406 Z" fill="#3c3e42"/>
<path d="M276,392.5 L281,390.5 L286,391 L287,394 L278,396.5 Z" fill="#606266"/>
<path d="M274.5,399 L279,397.6 L279.6,409 L275.4,407 Z" fill="#2c2e32"/>
<!-- body front -->
<path d="M290,398 L300,400 L301,417 L293,423.5 L288,415 Z" fill="#414347"/>
<path d="M300,400 L324,391.5 L338,398 L337.5,407.5 L326,418.5 L310,424.5 L301,417 Z" fill="#37393d"/>
<path d="M304.5,403.5 L325.5,396 L332,400.5 L330,407 L311,415 L305,411 Z" fill="#4b4d51"/>
<path d="M304.5,403.5 L325.5,396 L332,400.5" fill="none" stroke="#6a6c70" stroke-width="0.8"/>
<!-- right flange rounding -->
<path d="M330,380 Q337,385 342,392 L344.4,396.6 Q345,399 342,401.4 L338,398 Q336,390 330,385 Z" fill="#5f6165"/>
<path d="M326,419 Q333,414 338,408 L340,404" fill="none" stroke="#5a5c60" stroke-width="1"/>
<path d="M296,427 L303,428.6 L310,425 L322,420" fill="none" stroke="#55575b" stroke-width="0.9"/>
<!-- ear with hole -->
<path d="M301.2,371.8 Q304,369.3 308,370.3 Q311.6,371.4 312.6,374 L311,378.6 L304,379 Q300.6,375 301.2,371.8 Z" fill="#4d4f53"/>
<ellipse cx="304.4" cy="374.3" rx="1.6" ry="2" fill="#85878b"/>

<!-- bracket -->
<!-- bracket (4) -->
<defs>
<linearGradient id="brg" gradientUnits="userSpaceOnUse" x1="505" y1="442" x2="522" y2="492"><stop offset="0" stop-color="#a9abae"/><stop offset="0.6" stop-color="#a3a5a9"/><stop offset="1" stop-color="#94969a"/></linearGradient>
</defs>
<path d="M486,433.5 Q490,431.5 494,433 L499,441 Q511,448 526,450 Q540,446.5 550,441 Q555,439 558,441 Q561.5,446 560.5,454 Q559,462 550,467.5 Q540,469.5 530,472.5 Q519,479 512,487 Q506,494 500,498 Q495,502 491,499 Q488,496 487,490 L486,486 L480.5,484 Q488,480 493,476 Q497,470 495,463 Q492,457 488,454 L485,446 Z" fill="url(#brg)"/>
<path d="M489,446 Q496,452 499,462 Q500,472 495,478 Q501,470 500,460 Q497,450 492,444 Z" fill="#8d8f92" filter="url(#b05)"/>
<!-- front flange (thin darker edge) -->
<path d="M480.5,484 L486,486 L487,490 Q488,496 491,499 Q495,502 500,498 Q506,494 512,487 Q519,479 530,472.5 Q540,469.5 550,467.5 Q559,462 560.5,454 L558.6,452.6 Q556,459 548,463.6 Q538,466 528,469 Q517,475.5 509,484 Q504,491.6 500,495.6 Q495,499.4 492,497.4 Q489.8,494 489.6,486.4 L488.4,483 L483,481.6 Z" fill="#84868a"/>
<path d="M483,481.6 L488.4,483 L489.6,486.4" fill="none" stroke="#bfc1c3" stroke-width="0.8"/>
<path d="M488,454 Q492,457 495,463 Q497,470 493,476 Q488,480 480.5,484" fill="none" stroke="#8a8c8f" stroke-width="1"/>
<path d="M499,441 Q511,448 526,450 Q540,446.5 550,441" fill="none" stroke="#8d8f92" stroke-width="0.8"/>
<ellipse cx="553" cy="458" rx="3.4" ry="2.3" transform="rotate(-35 553 458)" fill="#fff"/>
<ellipse cx="494.8" cy="493" rx="3.2" ry="2.3" transform="rotate(-35 494.8 493)" fill="#fff"/>
<ellipse cx="492.3" cy="441.5" rx="2" ry="2.8" transform="rotate(-20 492.3 441.5)" fill="#fff"/>
<path d="M475.5,441 L481,436.5 L488,444 L489,452 L484,456.5 L477,449 Z" fill="#8c8e91"/>
<path d="M475.5,441 L481,436.5 L488,444 L482.5,448 Z" fill="#a2a4a7"/>
<ellipse cx="479.5" cy="448.5" rx="1.6" ry="2" fill="#6f7174"/>

<!-- ring -->
<!-- sealing ring (2) -->
<g transform="rotate(22 760.5 144.2)">
<ellipse cx="760.5" cy="144.2" rx="15.7" ry="22.3" fill="#4d4e50"/>
<ellipse cx="761.3" cy="144.1" rx="14.7" ry="21.4" fill="#3e3f41"/>
<ellipse cx="762.4" cy="143.9" rx="10.6" ry="17.2" fill="#58595b"/>
<ellipse cx="762.9" cy="143.7" rx="9.7" ry="16.3" fill="#fff"/>
</g>

<!-- table -->
<defs>
<linearGradient id="scg" x1="0" y1="0" x2="1" y2="0"><stop offset="0" stop-color="#8b8d8f"/><stop offset="0.3" stop-color="#c2c4c5"/><stop offset="0.6" stop-color="#a7a9ab"/><stop offset="1" stop-color="#77797b"/></linearGradient>
<linearGradient id="shg" x1="0" y1="0" x2="1" y2="0"><stop offset="0" stop-color="#8d8f91"/><stop offset="0.35" stop-color="#b9bbbc"/><stop offset="0.7" stop-color="#9a9c9e"/><stop offset="1" stop-color="#747678"/></linearGradient>
<radialGradient id="domeg" cx="0.4" cy="0.35" r="0.7"><stop offset="0" stop-color="#e0e1e2"/><stop offset="0.6" stop-color="#b4b6b7"/><stop offset="1" stop-color="#87898b"/></radialGradient>
</defs>
<g fill="none" stroke="#484848" stroke-width="1.15">
<path d="M722 250.5 H791.8 V538.7 H581.8 V490.8 H722 Z"/>
<path d="M722 298.6 H791.8 M722 346.4 H791.8 M722 394.5 H791.8 M722 442.1 H791.8 M722 490.8 H791.8 M652 490.8 V538.7 M722 490.8 V538.7"/>
</g>
<path d="M759.6,269 V291 Q764,293.6 768.6,291 V269 Z" fill="url(#shg)"/>
<path d="M759.6,273.6 L768.6,272.6 M759.6,275.6 L768.6,274.6 M759.6,277.6 L768.6,276.6 M759.6,279.6 L768.6,278.6 M759.6,281.6 L768.6,280.6 M759.6,283.6 L768.6,282.6 M759.6,285.6 L768.6,284.6 M759.6,287.6 L768.6,286.6 M759.6,289.6 L768.6,288.6 " stroke="#7d7f81" stroke-width="0.7" fill="none"/>
<path d="M754.4,264 Q754.4,256.4 764,256.2 Q773.8,256.4 773.8,264 Q773.8,268.5 770,270 Q764,271.6 758,270 Q754.4,268.5 754.4,264 Z" fill="url(#domeg)"/>
<path d="M760.5,259.3 l3,1.2 l2.6,-1.4 l0.3,2.4 l-2.6,1.2 l-3,-1 Z" fill="#7c7e80"/>
<path d="M760.0,320.5 V341.5 Q765.6,344.5 771.2,341.5 V320.5 Z" fill="url(#shg)"/>
<path d="M760.0,328.1 L771.2,327.1 M760.0,330.1 L771.2,329.1 M760.0,332.1 L771.2,331.1 M760.0,334.1 L771.2,333.1 M760.0,336.1 L771.2,335.1 M760.0,338.1 L771.2,337.1 M760.0,340.1 L771.2,339.1 " stroke="#7d7f81" stroke-width="0.7" fill="none"/>
<path d="M755,305.5 V318.5 Q765,324.0 775,318.5 V305.5 Z" fill="url(#scg)"/>
<ellipse cx="765" cy="305.8" rx="10" ry="4.6" fill="#b7b9ba" stroke="#d5d6d7" stroke-width="0.6"/>
<ellipse cx="764.7" cy="306" rx="5.0" ry="2.7" fill="#6f7173"/>
<ellipse cx="767" cy="374" rx="23" ry="14.2" fill="#7e8082"/>
<ellipse cx="767" cy="372" rx="23" ry="14" fill="#a3a5a7"/>
<ellipse cx="766.3" cy="369.3" rx="11.4" ry="6.6" fill="#8a8c8e"/>
<ellipse cx="766.3" cy="370.2" rx="10.6" ry="5.8" fill="#fff"/>
<path d="M760.4000000000001,417.1 V439.1 Q766.2,442.1 772.0,439.1 V417.1 Z" fill="url(#shg)"/>
<path d="M760.4000000000001,424.70000000000005 L772.0,423.70000000000005 M760.4000000000001,426.70000000000005 L772.0,425.70000000000005 M760.4000000000001,428.70000000000005 L772.0,427.70000000000005 M760.4000000000001,430.70000000000005 L772.0,429.70000000000005 M760.4000000000001,432.70000000000005 L772.0,431.70000000000005 M760.4000000000001,434.70000000000005 L772.0,433.70000000000005 M760.4000000000001,436.70000000000005 L772.0,435.70000000000005 M760.4000000000001,438.70000000000005 L772.0,437.70000000000005 " stroke="#7d7f81" stroke-width="0.7" fill="none"/>
<path d="M755.6,402.1 V415.1 Q765.6,420.6 775.6,415.1 V402.1 Z" fill="url(#scg)"/>
<ellipse cx="765.6" cy="402.40000000000003" rx="10" ry="4.6" fill="#b7b9ba" stroke="#d5d6d7" stroke-width="0.6"/>
<ellipse cx="765.3000000000001" cy="402.6" rx="5.0" ry="2.7" fill="#6f7173"/>
<ellipse cx="766.2" cy="483.4" rx="11.8" ry="5.8" fill="#8b8d8f"/>
<ellipse cx="766.2" cy="482" rx="11.8" ry="5.6" fill="#c4c6c7"/>
<path d="M757.2,450 L757.2,479.5 Q766,484.5 775.2,479.5 L775.2,450 Z" fill="url(#scg)"/>
<path d="M757.2,450 L761.5,452.6 V482 L757.2,479.5 Z" fill="#8e9092"/>
<path d="M761.5,452.6 H770.5 V482.6 Q766,483.4 761.5,482 Z" fill="#b3b5b6"/>
<path d="M770.5,452.6 L775.2,450 V479.5 L770.5,482.6 Z" fill="#7b7d7f"/>
<path d="M757.2,450 L761.2,446 H771 L775.2,450 L770.5,452.8 H761.5 Z" fill="#9fa1a3"/>
<path d="M761.5,449 l2.4,-2 l2.2,1.4 l2.4,-1.4 l1.6,2.2 l-2,1.8 l-4.4,0.2 Z" fill="#636567"/>
<path d="M607,510 L607,519 L616,528 L633,527 L641,519 L641,511 L633,518 L616,517 Z" fill="#8a8c8e"/>
<path d="M616,517 L633,518 L633,527 L616,528 Z" fill="#b5b7b8"/>
<path d="M633,518 L641,511 L641,519 L633,527 Z" fill="#6d6f71"/>
<path d="M607,510 L615,501.5 L630,501 L641,511 L633,518 L616,517 Z" fill="#9d9fa1"/>
<ellipse cx="624" cy="509" rx="7.3" ry="4.9" fill="#6b6d6f"/>
<path d="M617,510 Q624,503 631,509.5 Q628,514 624,514 Q620,514 617,510 Z" fill="#85878a"/>
<path d="M690.4,509 V535 Q695,537.6 699.6,535 V509 Z" fill="url(#shg)"/>
<path d="M690.4,512.6 L699.6,511.6 M690.4,514.5 L699.6,513.5 M690.4,516.4 L699.6,515.4 M690.4,518.3 L699.6,517.3 M690.4,520.1999999999999 L699.6,519.1999999999999 M690.4,522.0999999999999 L699.6,521.0999999999999 M690.4,523.9999999999999 L699.6,522.9999999999999 M690.4,525.8999999999999 L699.6,524.8999999999999 M690.4,527.7999999999998 L699.6,526.7999999999998 M690.4,529.6999999999998 L699.6,528.6999999999998 M690.4,531.5999999999998 L699.6,530.5999999999998 M690.4,533.4999999999998 L699.6,532.4999999999998 M690.4,535.3999999999997 L699.6,534.3999999999997 " stroke="#7d7f81" stroke-width="0.7" fill="none"/>
<ellipse cx="695" cy="506.3" rx="9" ry="3.9" fill="#9c9ea0"/>
<ellipse cx="695" cy="505.3" rx="9" ry="3.7" fill="#b9bbbc"/>
<path d="M687.2,497 V503.6 Q695,507.6 702.4,503.6 V497 Z" fill="url(#scg)"/>
<ellipse cx="694.8" cy="497" rx="7.6" ry="3.6" fill="#b3b5b6" stroke="#cfd0d1" stroke-width="0.5"/>
<ellipse cx="694.6" cy="497.2" rx="3.8" ry="2" fill="#707274"/>
<path d="M727.5,528.1 H765.6 V533.8 H727.5 Z" fill="#000"/>
<path d="M786.3,505.6 V510.8 L762,525.9 L756.9,523.1 Z" fill="#000"/>
<path d="M727.5,506.9 L736.9,511.9 L767.5,494.8 L786.3,505.6 L756.9,523.1 L765.6,528.1 L727.5,528.1 Z" fill="#fff" stroke="#000" stroke-width="1" stroke-linejoin="miter"/>
<g class="b" font-size="19.5" text-anchor="middle" stroke="#000" stroke-width="0.55" stroke-linejoin="round" opacity="0.999">
<text transform="translate(735.8 268) scale(1.2 1)">10</text>
<text transform="translate(735.3 316.4) scale(1.2 1)">7</text>
<text transform="translate(735.3 364.5) scale(1.2 1)">6</text>
<text transform="translate(735.3 391.2) scale(1.2 1)">8</text>
<text transform="translate(735.3 412) scale(1.2 1)">5</text>
<text transform="translate(735.3 460.5) scale(1.2 1)">3</text>
<text transform="translate(593.5 508.7) scale(1.05 1)">B</text>
<text transform="translate(663.4 508.7) scale(1.05 1)">A</text>
</g>
<text x="738.7" y="552.3" font-size="12.9" fill="#383838" stroke="#383838" stroke-width="0.15" opacity="0.999">460262</text>
<!-- lines -->
<g fill="none" stroke="#111" stroke-width="1.4" stroke-linejoin="miter">
<path d="M56.7 279 L514 17 L695.3 17 L695.3 270 L260.6 518.7 L56.7 518.7 Z"/>
<path d="M31.5 388.2 H56.7"/>
<path d="M93.7 407.3 V420.7 H226.7 V307.5"/>
<path d="M178.5 326 V432.3"/>
<path d="M288.6 366.3 V386"/>
<path d="M762.2 103 V119.8"/>
<path d="M524.8 475 V496.5"/>
<path d="M465 476.9 L479.4 485"/>
<path d="M515.6 428.5 L497.5 438.5"/>
</g>
<!-- white halos where leader lines cross parts -->
<g fill="none" stroke="#fff" stroke-width="4" stroke-linecap="butt">
<path d="M437 126.9 L480.6 151.6"/>
<path d="M650.4 84.2 L673 97"/>
<path d="M131 370.2 L157.6 358.6" stroke-width="3.4"/>
<path d="M337.4 396.3 L292 422.7"/>
<path d="M382.6 369.6 L357.5 384.3"/>
</g>
<g fill="none" stroke="#111" stroke-width="1.4">
<path d="M356.3 81 L480 151.3" stroke-dasharray="2 1.8 30.4 2.3 2.3 2.3 29.9 2.3 2.3 2.8 29.6 2.3 2.3 2.4 40"/>
<path d="M651 84.5 L743.8 137.3" stroke-dasharray="29.9 1.7 2.9 2.3 31.1 1.7 2.3 2.3 27 2 4"/>
<path d="M491 279 V438.8" stroke-dasharray="28.5 2 2.5 2.5 29.5 2 2 2 30 2 2.5 2 28.5 2 3 2 17"/>
<path d="M110.4 379.2 L157.5 358.6" stroke-dasharray="13.6 2.2 2 2.6 40"/>
<path d="M336.5 396.8 L284.4 427" stroke-dasharray="31 1.6 1.6 1.6 40"/>
<path d="M382 370 L346 390.7" stroke-dasharray="27 2 4.4 2 6"/>
</g>

<!-- labels -->
<g fill="#fff" stroke="#111" stroke-width="1.4">
<circle cx="93.6" cy="386.9" r="16.3"/>
<circle cx="226" cy="288.4" r="16.4"/>
<circle cx="340" cy="71.3" r="16.5"/>
<circle cx="268" cy="436" r="16.5"/>
<circle cx="419" cy="449.8" r="16.4"/>
<circle cx="450" cy="468" r="16.4"/>
<circle cx="560.6" cy="400.6" r="16.4"/>
<circle cx="530.7" cy="419.8" r="16.4"/>
</g>
<g class="b" font-size="19.5" text-anchor="middle" stroke="#000" stroke-width="0.55" stroke-linejoin="round" opacity="0.999">
<text transform="translate(25.3 395.3) scale(1.2 1)">1</text>
<text transform="translate(93.8 394.3) scale(1.05 1)">A</text>
<text transform="translate(226.1 295.3) scale(1.05 1)">B</text>
<text transform="translate(340.2 78.3) scale(1.2 1)">3</text>
<text transform="translate(762.3 97.7) scale(1.2 1)">2</text>
<text transform="translate(289 361.4) scale(1.2 1)">9</text>
<text transform="translate(268.5 443) scale(1.2 1)">10</text>
<text transform="translate(177.8 451.8) scale(1.2 1)">11</text>
<text transform="translate(419 457.3) scale(1.2 1)">5</text>
<text transform="translate(450 475.4) scale(1.2 1)">6</text>
<text transform="translate(560.2 408) scale(1.2 1)">7</text>
<text transform="translate(530.8 426.1) scale(1.2 1)">8</text>
<text transform="translate(525 515.2) scale(1.2 1)">4</text>
</g>


</svg>
</body>
</html>
